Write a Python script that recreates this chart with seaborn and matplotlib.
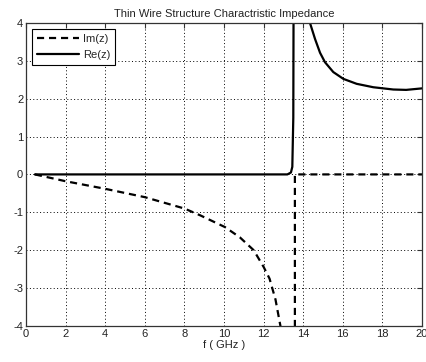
import matplotlib
matplotlib.use("Agg")
import matplotlib.pyplot as plt
import seaborn as sns
import pandas as pd
from matplotlib.lines import Line2D

# Data
f_re = [0.45, 2, 4, 6, 8, 10, 12, 13.2, 13.38, 13.45, 13.5, 13.52, 14.0, 14.22, 14.34, 14.6, 14.85, 15.1, 15.52, 16.03, 16.7, 17.54, 18.55, 19.2, 20.0]
re_z = [0, 0, 0, 0, 0, 0, 0, 0, 0.05, 0.2, 1.5, 6.0, 6.0, 4.3, 4.0, 3.57, 3.21, 2.96, 2.7, 2.52, 2.39, 2.3, 2.24, 2.23, 2.27]

f_im = [0.45, 2, 4, 6, 8, 8.8, 10.05, 10.8, 11.5, 12.0, 12.3, 12.6, 12.85, 13.0, 13.58, 13.58, 13.6, 16, 20]
im_z = [0, -0.18, -0.38, -0.6, -0.9, -1.08, -1.39, -1.66, -2.0, -2.44, -2.75, -3.3, -4.0, -6.0, -6.0, 0.0, 0.0, 0.0, 0.0]

title = "Thin Wire Structure Charactristic Impedance"
xlabel = "f ( GHz )"
xticks = [0, 2, 4, 6, 8, 10, 12, 14, 16, 18, 20]
yticks = [-4, -3, -2, -1, 0, 1, 2, 3, 4]

sns.set_theme(style="white")
plt.rcParams['font.family'] = ['Liberation Sans', 'DejaVu Sans']

fig = plt.figure(figsize=(4.27, 3.62), dpi=100)
ax = fig.add_axes([0.0609, 0.0994, 0.9274, 0.8376])

df_im = pd.DataFrame({"f": f_im, "v": im_z})
df_re = pd.DataFrame({"f": f_re, "v": re_z})

sns.lineplot(data=df_im, x="f", y="v", sort=False, estimator=None, ax=ax,
             color="black", lw=1.6, linestyle=(0, (3.2, 2.2)))
sns.lineplot(data=df_re, x="f", y="v", sort=False, estimator=None, ax=ax,
             color="black", lw=1.6)

ax.set_xlim(0, 20)
ax.set_ylim(-4, 4)
ax.set_xticks(xticks)
ax.set_yticks(yticks)
ax.set_xticklabels([str(t) for t in xticks])
ax.set_yticklabels([str(t) for t in yticks])
ax.tick_params(direction="in", length=3.5, width=0.8, color="#333333",
               top=True, right=True, labelsize=8, pad=2, labelcolor="#222222")
ax.grid(True, linestyle=(0, (1, 2.5)), color="black", lw=0.7)
for s in ax.spines.values():
    s.set_visible(True)
    s.set_color("#333333")
    s.set_linewidth(0.9)

ax.set_xlabel(xlabel, fontsize=8, labelpad=1, color="#222222")
ax.set_ylabel("")
ax.set_title(title, fontsize=8, pad=4, color="#222222")

handles = [Line2D([], [], color="black", lw=1.6, linestyle=(0, (3.2, 2.2))),
           Line2D([], [], color="black", lw=1.6)]
leg = ax.legend(handles, ["Im(z)", "Re(z)"], loc="upper left", fontsize=8,
                frameon=True, fancybox=False, framealpha=1, edgecolor="black",
                borderpad=0.45, handlelength=3.8, handletextpad=0.3,
                labelspacing=0.55, borderaxespad=0.55)
leg.get_frame().set_linewidth(0.8)

fig.savefig("out.png", dpi=100)
